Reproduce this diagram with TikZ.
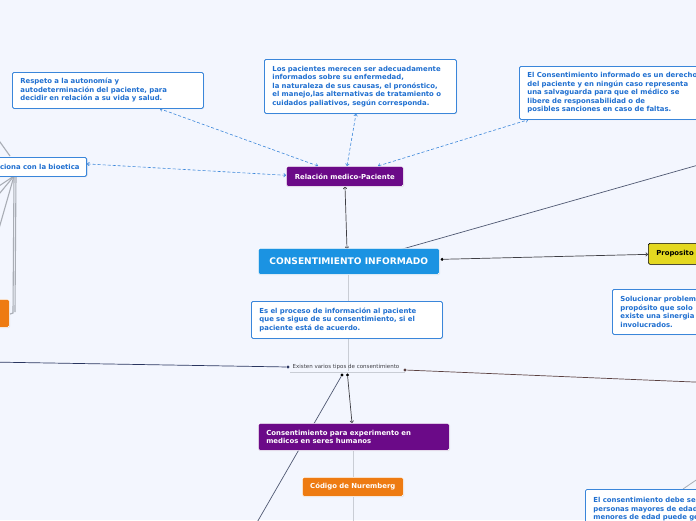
\documentclass[tikz,border=0pt]{standalone}
\usepackage{fontspec}
\setmainfont{DejaVu Sans}
\usetikzlibrary{arrows.meta,shadows}
\pgfdeclarelayer{bglines}
\pgfdeclarelayer{bgfill}
\pgfsetlayers{bgfill,bglines,main}
\definecolor{bg}{HTML}{F3F6FE}
\definecolor{bord}{HTML}{3A86DA}
\definecolor{txtb}{HTML}{1F6FD0}
\definecolor{purp}{HTML}{6B0A88}
\definecolor{cblue}{HTML}{1B93E2}
\definecolor{yell}{HTML}{E4D820}
\definecolor{orng}{HTML}{EE7B12}
\definecolor{lgray}{HTML}{C9CDD5}
\definecolor{mgray}{HTML}{A9ADB5}
\definecolor{dk}{HTML}{3E3E44}
\definecolor{slate}{HTML}{4F5872}
\definecolor{navy}{HTML}{2A3660}
\definecolor{brn}{HTML}{5A4040}
\tikzset{
  shd/.style={drop shadow={opacity=0.2,shadow xshift=0.8pt,shadow yshift=-0.8pt}},
  note/.style={draw=bord, fill=white, rounded corners=1.5pt, line width=0.8pt,
    font=\fontsize{6.9}{8.5}\selectfont\bfseries, text=txtb, align=left,
    inner xsep=8pt, inner ysep=3pt, anchor=north west, shd},
  filled/.style={rounded corners=1.5pt, draw=white, line width=0.6pt,
    font=\fontsize{6.9}{8.5}\selectfont\bfseries, text=white,
    inner xsep=8pt, inner ysep=3pt, anchor=north west, shd},
  dconn/.style={draw=bord, dashed, dash pattern=on 3pt off 2pt, line width=0.6pt,
    {To[length=2.5pt,width=4pt]}-{To[length=2.5pt,width=4pt]}},
  sconn/.style={line width=0.7pt},
  gline/.style={draw=mgray, line width=1.1pt},
  dotn/.style={circle, fill=#1, inner sep=0pt, minimum size=3.2pt},
}
\begin{document}
\begin{tikzpicture}[x=1pt,y=-1pt]
\begin{pgfonlayer}{bgfill}
\fill[bg] (0,0) rectangle (696,520);
\end{pgfonlayer}
\clip (0,0) rectangle (696,520);

% left orange box (clipped)
\node[filled, fill=orng, minimum width=40pt, minimum height=28pt] (lorange) at (-31,299) {};

% nodes
\node[font=\fontsize{5.5}{6}\selectfont, text=dk, inner sep=1pt] (exist) at (346,367) {Existen varios tipos de consentimiento};
\coordinate (ulL) at (290,372);
\coordinate (ulR) at (405,372);

\node[filled, fill=cblue, minimum width=181pt, minimum height=26pt, font=\fontsize{9.1}{10}\selectfont\bfseries, inner xsep=0pt] (central) at (258,248) {CONSENTIMIENTO INFORMADO};
\node[filled, fill=purp, minimum width=117pt, minimum height=20pt, inner xsep=0pt] (rel) at (286,166) {Relación medico-Paciente};

\node[note, text width=175pt, minimum height=36pt] (b1) at (12,72) {Respeto a la autonomía y\\autodeterminación del paciente, para\\decidir en relación a su vida y salud.};
\node[note, text width=176pt, minimum height=54pt] (b2) at (264,59) {Los pacientes merecen ser adecuadamente\\informados sobre su enfermedad,\\la naturaleza de sus causas, el pronóstico,\\el manejo,las alternativas de tratamiento o\\cuidados paliativos, según corresponda.};
\node[note, text width=220pt, minimum height=53pt] (b3) at (519,66) {El Consentimiento informado es un derecho\\del paciente y en ningún caso representa\\una salvaguarda para que el médico se\\libere de responsabilidad o de\\posibles sanciones en caso de faltas.};
\node[note, minimum height=19pt, minimum width=120pt, anchor=north east, inner xsep=7pt, align=right, text width=106pt] (b4) at (87,157) {ciona con la bioetica};

\node[note, text width=175pt, minimum height=37pt] (proc) at (251,301) {Es el proceso de información al paciente\\que se sigue de su consentimiento, si el\\paciente está de acuerdo.};

\node[filled, fill=yell, draw=black, line width=0.7pt, text=black, minimum height=21pt, inner xsep=8pt, align=left, text width=50pt] (prop) at (648,243) {Proposito};
\node[note, text width=110pt, minimum height=45pt] (sol) at (612,289) {Solucionar problemas\\propósito que solo\\existe una sinergia\\involucrados.};

\node[filled, fill=purp, minimum width=191pt, minimum height=27pt, text width=175pt, align=left] (exp) at (258,423) {Consentimiento para experimento en\\medicos en seres humanos};
\node[filled, fill=orng, minimum width=101pt, minimum height=19pt, inner xsep=0pt] (nur) at (302,477) {Código de Nuremberg};
\node[note, text width=150pt, minimum height=40pt] (cons) at (585,489) {El consentimiento debe ser\\personas mayores de edad\\menores de edad puede ge};

% dots
\node[dotn=black] (crdot) at ([xshift=2.5pt,yshift=2pt]central.east) {};
\node[dotn=navy] (exL) at (288,367) {};
\node[dotn=brn] (exR) at (405,370) {};
\node[dotn=black] (exB1) at (342,375) {};
\node[dotn=black] (exB2) at (347.5,375) {};

\begin{pgfonlayer}{bglines}
% left side gray lines
\coordinate (lhub) at (14,176);
\coordinate (ltop) at (-10,128);
\coordinate (la) at (-10,192);
\coordinate (lb) at (-10,205);
\coordinate (lc) at (-10,260);
\coordinate (ld) at (13,313);
\coordinate (le) at (15,312);
\draw[gline] (ltop) -- (10,156);
\draw[gline] (lhub) -- (la);
\draw[gline] (lhub) -- (lb);
\draw[gline] (lhub) -- (lc);
\draw[gline] (lhub) -- (ld) -- (10,314);
\draw[gline] (16,176) -- (le);

\draw[lgray, line width=0.8pt] (ulL) -- (ulR);
\draw[lgray, line width=1pt] ([xshift=90pt]central.south west) -- (348,371);

% dashed connectors
\draw[dconn] ([xshift=32pt]rel.north west) -- ([xshift=148pt]b1.south west);
\draw[dconn] ([xshift=61pt]rel.north west) -- ([xshift=92pt]b2.south west);
\draw[dconn] ([xshift=92pt]rel.north west) -- ([xshift=9pt]b3.south west);
\draw[dconn] ([yshift=1pt]rel.west) -- ([yshift=3pt]b4.east);

% solid connectors
\draw[dk, sconn, {To[length=2.5pt,width=4pt]}-{To[length=2.5pt,width=4pt]}] ([xshift=59pt]rel.south west) -- ([xshift=89pt,yshift=-1pt]central.north west);
\coordinate (ctopfar) at (730,156);
\coordinate (ctop) at ([xshift=141pt,yshift=-2pt]central.north west);
\draw[slate, sconn] (ctop) -- (ctopfar);
\draw[dk, sconn, -{To[length=2.5pt,width=4pt]}] (crdot) -- ([yshift=-0.5pt]prop.west);

\coordinate (farL) at (-10,362);
\coordinate (farR) at (730,383.5);
\coordinate (farBL) at (248,538);
\draw[navy, sconn] (exL) -- (farL);
\draw[brn, sconn] (exR) -- (farR);
\draw[slate, sconn] (exB1) -- (farBL);
\draw[dk, sconn, -{To[length=2.5pt,width=4pt]}] (exB2) -- ([xshift=94pt]exp.north west);

\coordinate (nurbot) at (353,525);
\draw[lgray, line width=1pt] ([xshift=95pt]exp.south west) -- ([xshift=51pt]nur.north west);
\draw[lgray, line width=1pt] ([xshift=51pt]nur.south west) -- (nurbot);
\coordinate (consfar) at (705,474);
\draw[mgray, line width=0.8pt] ([xshift=98pt]cons.north west) -- (consfar);
\end{pgfonlayer}
\end{tikzpicture}
\end{document}
